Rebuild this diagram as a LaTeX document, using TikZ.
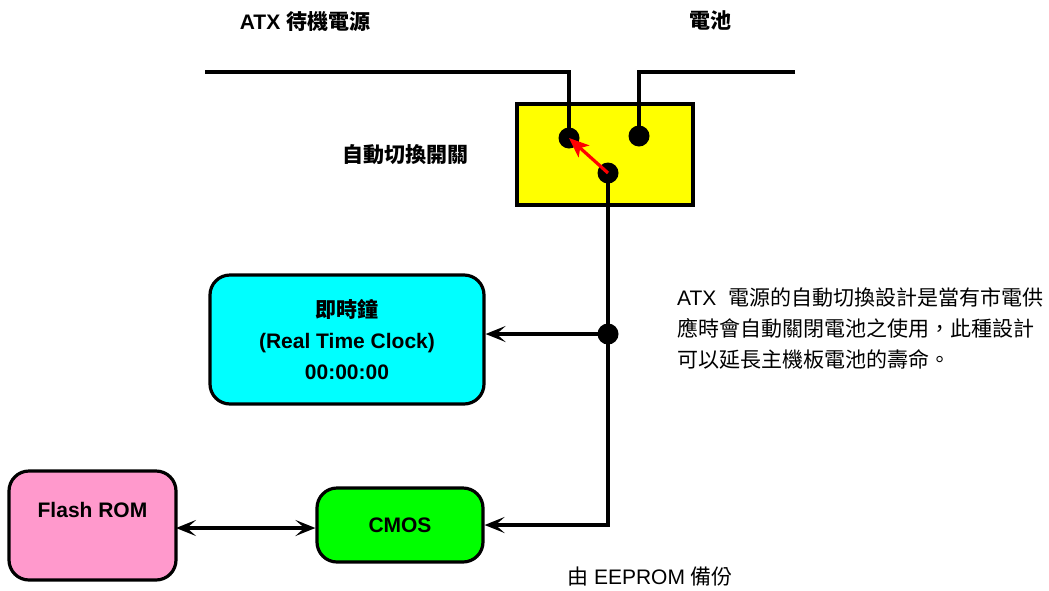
\documentclass[tikz,border=0pt]{standalone}
\usepackage{fontspec}
\setmainfont{Liberation Sans}
\newfontfamily\cjk{Noto Sans CJK TC}
\newcommand{\zh}[1]{{\cjk #1}}
\usetikzlibrary{arrows.meta}
\definecolor{flashpink}{RGB}{255,153,204}
\definecolor{rtccyan}{RGB}{0,255,255}
\definecolor{swyellow}{RGB}{255,255,0}
\definecolor{cmosgreen}{RGB}{0,255,0}

\begin{document}
\begin{tikzpicture}[
  x=1pt, y=-1pt,
  >={Stealth[length=20pt, width=16pt, inset=9pt]},
  every node/.style={font=\fontsize{21}{31}\selectfont},
  lbl/.style  = {font=\fontsize{21}{31}\selectfont\bfseries},
  blk/.style  = {draw=black, line width=3.2pt, rounded corners=20pt, align=center, inner sep=0pt,
                 font=\fontsize{21}{31}\selectfont\bfseries},
  dot/.style  = {circle, fill=black, inner sep=0pt, minimum size=21pt},
  wire/.style = {line width=3.2pt},
  arr/.style  = {wire, ->},
]
  \useasboundingbox (0,0) rectangle (1049,590);

  \node[lbl] (atxlbl) at (305,22) {ATX \zh{待機電源}};
  \node[lbl] (batlbl) at (710,20) {\zh{電池}};

  \node[blk, rounded corners=0pt, fill=swyellow, minimum width=176pt, minimum height=101pt] (sw) at (605,154.5) {};
  \node[lbl] (swlbl) at (405,155) {\zh{自動切換開關}};

  \node[blk, fill=rtccyan, minimum width=274pt, minimum height=129pt] (rtc) at (347,339.5)
       {\zh{即時鐘}\\(Real Time Clock)\\00:00:00};
  \node[blk, fill=flashpink, minimum width=167pt, minimum height=109pt] (flash) at (92.5,525.5)
       {Flash ROM\\\mbox{}};
  \node[blk, fill=cmosgreen, minimum width=166pt, minimum height=74pt] (cmos) at (400,525) {CMOS};

  \node[dot] (pa) at (569,138) {};
  \node[dot] (pb) at (639,136) {};
  \node[dot] (pc) at (608,173) {};
  \node[dot] (pj) at (608,334) {};

  \coordinate (atxend) at (205,72);
  \coordinate (batend) at (795,72);
  \coordinate (romlink) at (176,528);

  % supply lines
  \draw[wire] (atxend) -| (pa.center);
  \draw[wire] (batend) -| (pb.center);
  \draw[wire] (pc.center) -- (pj.center);
  \draw[arr] (pj.center) -- (pj.center -| rtc.east);
  \draw[arr] (pj.center) |- (cmos.east);
  \draw[arr, <->] (romlink) -- (romlink -| cmos.west);
  \draw[wire, red, -{Stealth[length=20pt, width=16pt, inset=5pt]}] (pc.center) -- (pa.center);

  \node[anchor=north west, align=left, inner sep=0pt] (note) at (677,287)
       {ATX\ \ \zh{電源的自動切換設計是當有市電供}\\
        \zh{應時會自動關閉電池之使用，此種設計}\\
        \zh{可以延長主機板電池的壽命。}};
  \node[anchor=west, inner sep=0pt] (eeprom) at (567,577) {\zh{由} EEPROM \zh{備份}};
\end{tikzpicture}
\end{document}
